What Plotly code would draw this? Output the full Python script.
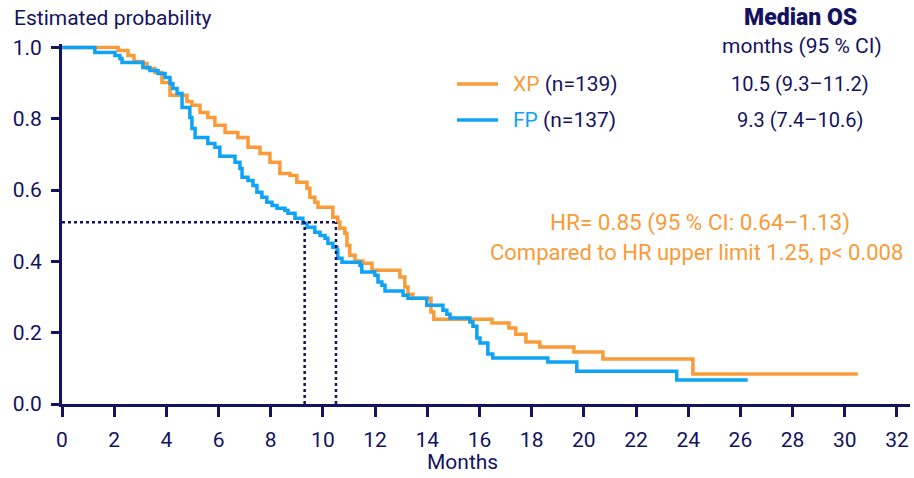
import plotly.graph_objects as go

# ---- data ----
xp_time = [0, 2.15, 2.53, 2.76, 3.10, 3.26, 3.56, 3.83, 4.14, 4.79, 4.98, 5.29, 5.59, 5.86,
           6.25, 6.74, 7.13, 7.59, 7.97, 8.35, 8.74, 9.00, 9.39, 9.50, 9.69, 9.81, 10.38,
           10.57, 10.65, 10.84, 10.92, 11.03, 11.23, 11.53, 11.88, 12.95, 13.14, 13.26,
           13.45, 14.14, 14.25, 16.48, 17.13, 17.39, 17.78, 18.31, 19.62, 20.73, 24.18, 30.5]
xp_surv = [1.0, 0.992, 0.978, 0.961, 0.955, 0.941, 0.930, 0.902, 0.866, 0.849, 0.838, 0.818,
           0.804, 0.782, 0.762, 0.748, 0.720, 0.703, 0.678, 0.647, 0.641, 0.622, 0.605, 0.580,
           0.566, 0.552, 0.524, 0.510, 0.493, 0.479, 0.445, 0.417, 0.401, 0.395, 0.375, 0.356,
           0.328, 0.308, 0.297, 0.258, 0.238, 0.227, 0.213, 0.196, 0.174, 0.160, 0.146, 0.126,
           0.084, 0.084]

fp_time = [0, 1.26, 2.03, 2.22, 2.30, 3.10, 3.37, 3.68, 3.95, 4.14, 4.25, 4.41, 4.60, 4.90,
           4.98, 5.10, 5.59, 5.86, 6.05, 6.63, 6.82, 6.90, 7.13, 7.32, 7.47, 7.66, 7.85, 8.05,
           8.24, 8.54, 8.66, 8.93, 9.23, 9.39, 9.69, 9.89, 10.08, 10.19, 10.38, 10.54, 10.57,
           10.73, 11.42, 11.49, 11.99, 12.11, 12.26, 12.38, 13.07, 13.26, 13.98, 14.60, 14.75,
           14.87, 15.63, 15.75, 15.90, 16.02, 16.32, 16.51, 18.62, 19.73, 23.56, 26.28]
fp_surv = [1.0, 0.986, 0.978, 0.969, 0.958, 0.944, 0.936, 0.927, 0.916, 0.899, 0.885, 0.871,
           0.832, 0.804, 0.773, 0.748, 0.731, 0.720, 0.695, 0.678, 0.661, 0.636, 0.627, 0.613,
           0.594, 0.580, 0.566, 0.557, 0.549, 0.543, 0.535, 0.521, 0.507, 0.496, 0.482, 0.473,
           0.465, 0.451, 0.440, 0.431, 0.409, 0.398, 0.389, 0.370, 0.361, 0.342, 0.333, 0.317,
           0.305, 0.297, 0.277, 0.263, 0.252, 0.241, 0.230, 0.218, 0.185, 0.171, 0.140, 0.129,
           0.118, 0.092, 0.067, 0.067]

median_times = [9.3, 10.5]
median_level = 0.51
x_ticks = list(range(0, 33, 2))
y_ticks = [0.0, 0.2, 0.4, 0.6, 0.8, 1.0]

NAVY = "#13135f"
ORANGE = "#f99b38"
BLUE = "#0fa3f5"
FONT = "Roboto"
TICKFONT = "Liberation Sans Narrow, Roboto"

fig = go.Figure()
fig.add_trace(go.Scatter(x=xp_time, y=xp_surv, mode="lines", line=dict(color=ORANGE, width=3.5, shape="hv"),
                         name="XP", showlegend=False, hoverinfo="skip"))
fig.add_trace(go.Scatter(x=fp_time, y=fp_surv, mode="lines", line=dict(color=BLUE, width=3.5, shape="hv"),
                         name="FP", showlegend=False, hoverinfo="skip"))

W, H = 914, 478
ML, MR, MT, MB = 62, 4, 44, 74
pw, ph = W - ML - MR, H - MT - MB

def px(xp):
    return (xp - ML) / pw

def py(yp):
    return (H - MB - yp) / ph

# median guide lines
shapes = [dict(type="line", xref="x", yref="y", x0=0, x1=max(median_times), y0=median_level, y1=median_level,
               line=dict(color=NAVY, width=2.5, dash="dot"))]
for m in median_times:
    shapes.append(dict(type="line", xref="x", yref="y", x0=m, x1=m, y0=0, y1=median_level,
                       line=dict(color=NAVY, width=2.5, dash="dot")))
# legend line samples
shapes.append(dict(type="line", xref="paper", yref="paper", x0=px(457), x1=px(498), y0=py(84), y1=py(84),
                   line=dict(color=ORANGE, width=3.5)))
shapes.append(dict(type="line", xref="paper", yref="paper", x0=px(457), x1=px(498), y0=py(120), y1=py(120),
                   line=dict(color=BLUE, width=3.5)))

ann = []
def add_text(text, x, y, size=17, color=NAVY, xanchor="center", weight=None):
    f = dict(family=FONT, size=size, color=color)
    if weight:
        f["weight"] = weight
    ann.append(dict(text=text, xref="paper", yref="paper",
                    x=px(x), y=py(y), xanchor=xanchor, yanchor="middle", showarrow=False, font=f))

add_text("Estimated probability", 12, 18, size=21, xanchor="left")
add_text("Median OS", 800, 17, size=23, weight=900)
add_text("months (95 % CI)", 802, 46, size=21)
add_text(f"<span style='color:{ORANGE}'>XP</span> (n=139)", 511, 84, size=21, xanchor="left")
add_text(f"<span style='color:{BLUE}'>FP</span> (n=137)", 511, 120, size=21, xanchor="left")
add_text("10.5 (9.3–11.2)", 800, 84, size=20)
add_text("9.3 (7.4–10.6)", 800, 120, size=20)
add_text("HR= 0.85 (95 % CI: 0.64–1.13)", 700, 222, size=22.5, color=ORANGE)
add_text("Compared to HR upper limit 1.25, p&lt; 0.008", 696, 253, size=22, color=ORANGE)
add_text("Months", 462, 462, size=21)

fig.update_layout(
    width=W, height=H, margin=dict(l=ML, r=MR, t=MT, b=MB),
    plot_bgcolor="white", paper_bgcolor="white",
    shapes=shapes, annotations=ann,
    font=dict(family=FONT, color=NAVY),
    xaxis=dict(range=[0, 32.5], tickvals=x_ticks, ticks="outside", ticklen=10, tickwidth=2.5,
               tickcolor=NAVY, showline=True, linecolor=NAVY, linewidth=3, showgrid=False,
               zeroline=False, automargin=False, ticklabelstandoff=5,
               tickfont=dict(family=TICKFONT, size=21, color=NAVY)),
    yaxis=dict(range=[0, 1.01], tickvals=y_ticks, tickformat=".1f", ticks="outside", ticklen=8,
               tickwidth=2.5, tickcolor=NAVY, showline=True, linecolor=NAVY, linewidth=3,
               showgrid=False, zeroline=False, automargin=False, ticklabelstandoff=5,
               tickfont=dict(family=TICKFONT, size=21, color=NAVY)),
)

fig.write_html("out.html", config={"displayModeBar": False},
               post_script="document.body.style.margin='0';document.body.style.overflow='hidden';")
